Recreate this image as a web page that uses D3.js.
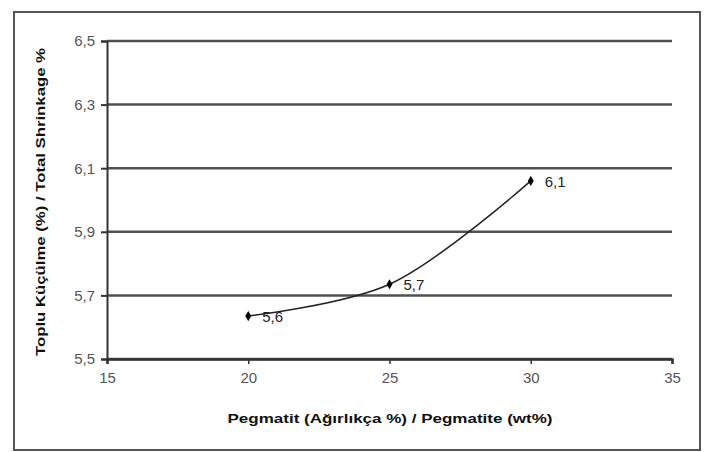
<!DOCTYPE html>
<html>
<head>
<meta charset="utf-8">
<script src="https://cdn.jsdelivr.net/npm/d3@7"></script>
<style>
  html, body { margin: 0; padding: 0; background: #fff; }
  svg { display: block; }
  text { font-family: Arial, "Liberation Sans", sans-serif; }
</style>
</head>
<body>
<svg id="chart" width="706" height="452"></svg>
<script>
// Pegmatite content (wt%) and total shrinkage (%)
const pegmatite = [20, 25, 30];
const shrinkage = [5.635, 5.735, 6.06];
const xTicks = [15, 20, 25, 30, 35];
const yTicks = [5.5, 5.7, 5.9, 6.1, 6.3, 6.5];
const xTitle = "Pegmatit (Ağırlıkça %) / Pegmatite (wt%)";
const yTitle = "Toplu Küçülme (%) / Total Shrinkage %";

const svg = d3.select("#chart");
const W = 706, H = 452;
const m = { left: 107, right: 34, top: 41, bottom: 93 };

const x = d3.scaleLinear().domain([15, 35]).range([m.left, W - m.right]);
const y = d3.scaleLinear().domain([5.5, 6.5]).range([H - m.bottom, m.top]);
const comma = v => d3.format(".1f")(v).replace(".", ",");

// chart frame
svg.append("rect")
  .attr("x", 14).attr("y", 12).attr("width", 686).attr("height", 438)
  .attr("fill", "#fff").attr("stroke", "#555").attr("stroke-width", 2);

// horizontal gridlines
svg.append("g").selectAll("line").data(yTicks).join("line")
  .attr("x1", x(15)).attr("x2", x(35))
  .attr("y1", d => y(d)).attr("y2", d => y(d))
  .attr("stroke", "#505050").attr("stroke-width", 2.5);

// y axis
const yAxis = d3.axisLeft(y).tickValues(yTicks).tickSize(6).tickPadding(6)
  .tickFormat(comma);
svg.append("g").attr("transform", `translate(${m.left},0)`).call(yAxis)
  .call(g => g.select(".domain").attr("stroke", "#333").attr("stroke-width", 2))
  .call(g => g.selectAll(".tick line").attr("stroke", "#333").attr("stroke-width", 2))
  .call(g => g.selectAll("text").attr("font-size", 15).attr("fill", "#555")
    .attr("font-family", "Arial, 'Liberation Sans', sans-serif"));

// x axis
const xAxis = d3.axisBottom(x).tickValues(xTicks).tickSize(5).tickPadding(8)
  .tickFormat(d3.format("d"));
svg.append("g").attr("transform", `translate(0,${y(5.5)})`).call(xAxis)
  .call(g => g.select(".domain").attr("stroke", "#333").attr("stroke-width", 2.5))
  .call(g => g.selectAll(".tick line").attr("stroke", "#333").attr("stroke-width", 1.5))
  .call(g => g.selectAll("text").attr("font-size", 15).attr("fill", "#555")
    .attr("font-family", "Arial, 'Liberation Sans', sans-serif"));

// axis titles
svg.append("text")
  .attr("x", 390).attr("y", 423)
  .attr("text-anchor", "middle").attr("font-size", 13.5).attr("font-weight", "bold")
  .attr("textLength", 325).attr("lengthAdjust", "spacingAndGlyphs")
  .attr("fill", "#111").text(xTitle);
svg.append("text")
  .attr("transform", `translate(45,202) rotate(-90)`)
  .attr("text-anchor", "middle").attr("font-size", 13.5).attr("font-weight", "bold")
  .attr("textLength", 308).attr("lengthAdjust", "spacingAndGlyphs")
  .attr("fill", "#111").text(yTitle);

// smoothed series line
const pts = pegmatite.map((p, i) => [p, shrinkage[i]]);
svg.append("path").datum(pts)
  .attr("fill", "none").attr("stroke", "#222").attr("stroke-width", 1.5)
  .attr("d", d3.line().x(d => x(d[0])).y(d => y(d[1])).curve(d3.curveCatmullRom.alpha(0.5)));

// markers
svg.append("g").selectAll("path").data(pts).join("path")
  .attr("transform", d => `translate(${x(d[0])},${y(d[1])})`)
  .attr("d", d3.symbol(d3.symbolDiamond, 30))
  .attr("fill", "#000");

// value labels
svg.append("g").selectAll("text").data(pts).join("text")
  .attr("x", d => x(d[0]) + 14).attr("y", d => y(d[1]) + 6)
  .attr("font-size", 15).attr("fill", "#222")
  .text(d => comma(d[1]));
</script>
</body>
</html>
